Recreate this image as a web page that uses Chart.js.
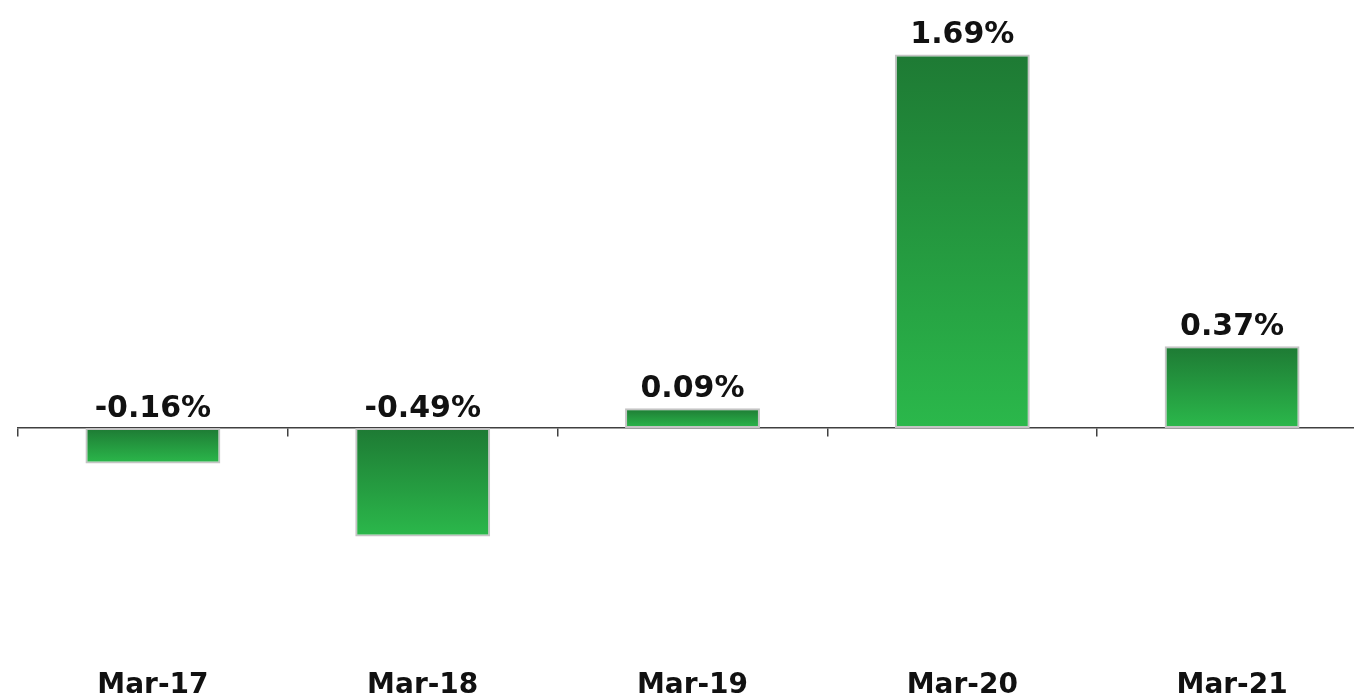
<!DOCTYPE html>
<html>
<head>
<meta charset="utf-8">
<script src="https://cdn.jsdelivr.net/npm/chart.js@4.4.0/dist/chart.umd.min.js"></script>
<style>
  html, body { margin: 0; padding: 0; background: #ffffff; overflow: hidden; }
  #wrap { width: 1367px; height: 715px; position: relative; }
</style>
</head>
<body>
<div id="wrap"><canvas id="c"></canvas></div>
<script>
const categories = ['Mar-17', 'Mar-18', 'Mar-19', 'Mar-20', 'Mar-21'];
const values = [-0.16, -0.49, 0.09, 1.69, 0.37];
const valueLabels = ['-0.16%', '-0.49%', '0.09%', '1.69%', '0.37%'];

const FONT = '"DejaVu Sans", Verdana, sans-serif';

function barGradient(ctx) {
  const chart = ctx.chart;
  const y = chart.scales.y;
  if (!y || !chart.chartArea) return '#26a343';
  const v = ctx.raw;
  const p0 = y.getPixelForValue(0);
  const p1 = y.getPixelForValue(v);
  const top = Math.min(p0, p1), bot = Math.max(p0, p1);
  const g = chart.ctx.createLinearGradient(0, top, 0, bot === top ? top + 1 : bot);
  g.addColorStop(0, '#1e7a34');
  g.addColorStop(1, '#2bb84b');
  return g;
}

const labelPlugin = {
  id: 'valueLabels',
  afterDatasetsDraw(chart) {
    const ctx = chart.ctx;
    const meta = chart.getDatasetMeta(0);
    const y0 = chart.scales.y.getPixelForValue(0);
    ctx.save();
    ctx.font = 'bold 30px ' + FONT;
    ctx.fillStyle = '#111111';
    ctx.textAlign = 'center';
    ctx.textBaseline = 'alphabetic';
    meta.data.forEach((el, i) => {
      const top = Math.min(el.y, y0);
      ctx.fillText(valueLabels[i], el.x, top - 11);
    });
    ctx.restore();
  }
};

new Chart(document.getElementById('c'), {
  type: 'bar',
  data: {
    labels: categories,
    datasets: [{
      data: values,
      backgroundColor: barGradient,
      borderColor: '#c4c4c4',
      borderWidth: 2,
      borderSkipped: false,
      categoryPercentage: 1.0,
      barPercentage: 0.5
    }]
  },
  options: {
    responsive: true,
    maintainAspectRatio: false,
    animation: false,
    events: [],
    layout: { padding: { left: 18, right: 0, top: 8, bottom: 1 } },
    plugins: { legend: { display: false }, tooltip: { enabled: false }, title: { display: false } },
    scales: {
      x: {
        type: 'category',
        position: { y: 0 },
        offset: true,
        grid: { display: true, offset: true, drawOnChartArea: false, drawTicks: true, tickLength: 8, color: '#404040', lineWidth: 1.5 },
        border: { display: true, color: '#404040', width: 1.5 },
        ticks: { display: false }
      },
      x2: {
        type: 'category',
        labels: categories,
        position: 'bottom',
        offset: true,
        grid: { display: false, drawTicks: false },
        border: { display: false },
        ticks: { display: true, color: '#111111', padding: 14, font: { family: FONT, size: 28, weight: 'bold', lineHeight: 1 } }
      },
      y: {
        display: false,
        min: -1.04,
        max: 1.9
      }
    }
  },
  plugins: [labelPlugin]
});
</script>
</body>
</html>
